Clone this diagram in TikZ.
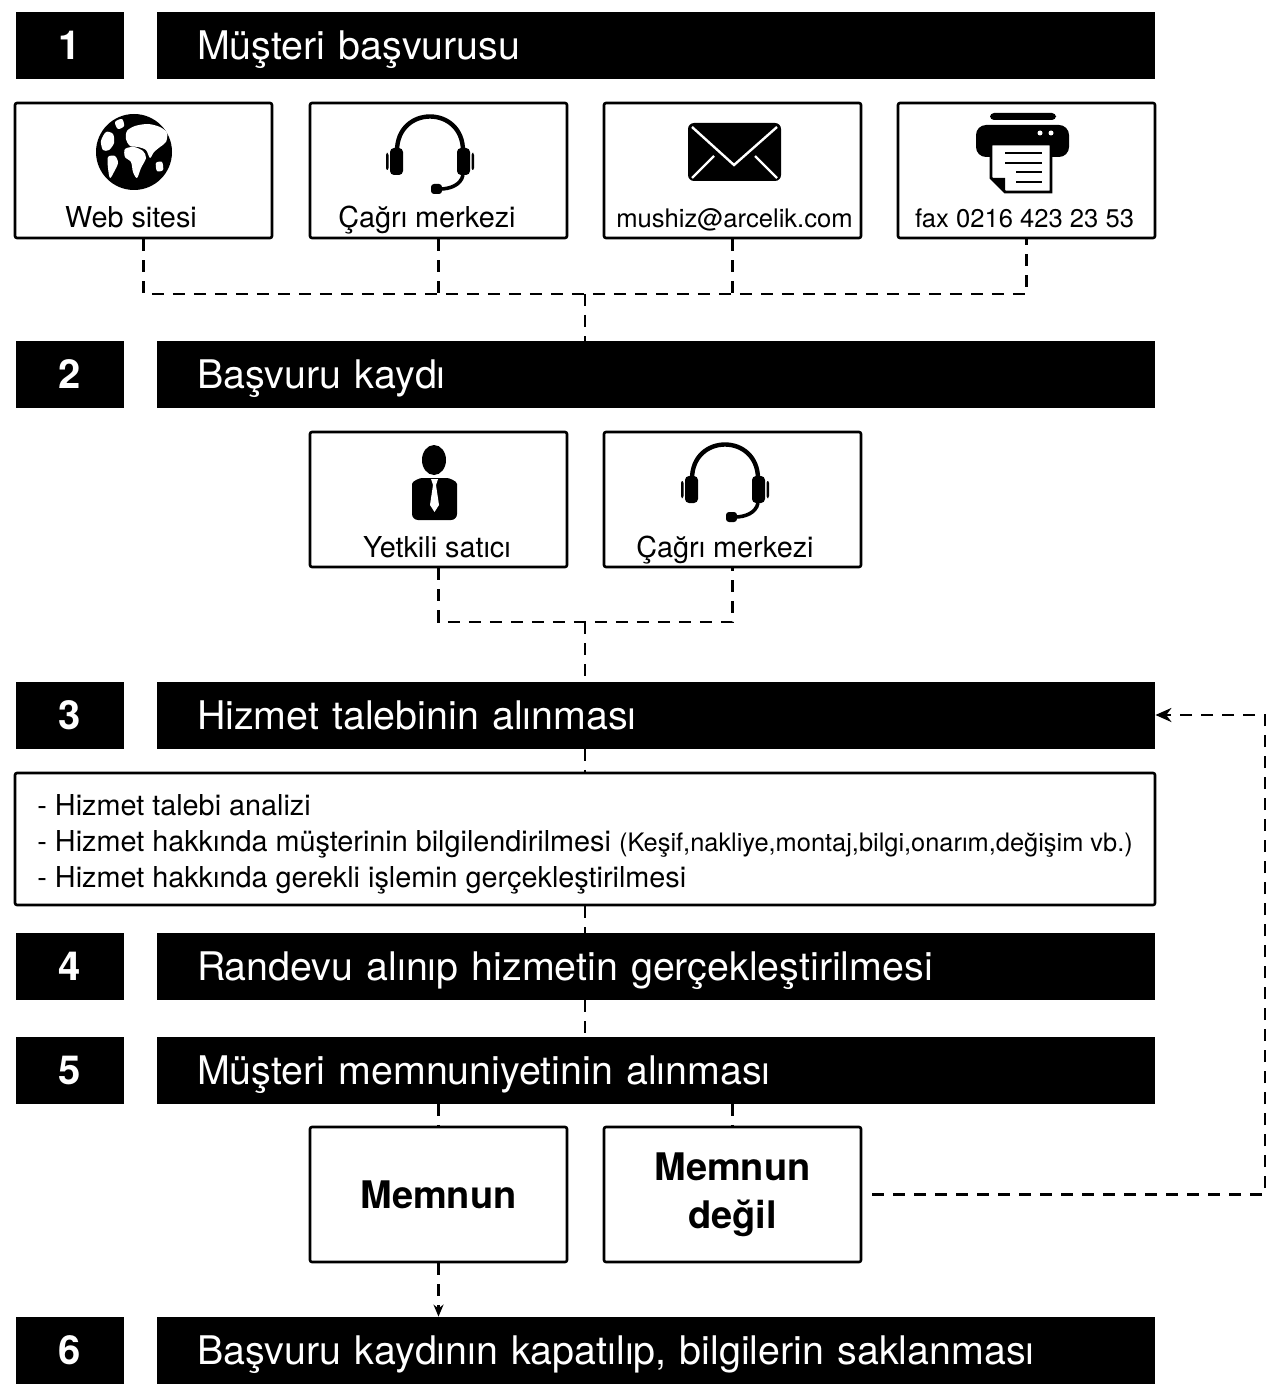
\documentclass[tikz,border=0pt]{standalone}
\usepackage{fontspec}
\setmainfont{TeX Gyre Heros}
\usetikzlibrary{arrows.meta}
\tikzset{
	numbox/.style={fill=black,text=white,minimum width=54pt,minimum height=33.5pt,inner sep=0pt,font=\fontsize{20}{24}\selectfont\bfseries,text height=14pt,text depth=0pt},
	titlebar/.style={fill=black,text=white,minimum height=33.5pt,text width=459pt,inner xsep=20pt,inner ysep=0pt,align=left,font=\fontsize{19.7}{24}\selectfont,text height=14.2pt,text depth=0pt},
	srcbox/.style={draw,line width=1.3pt,rounded corners=1pt,minimum width=128.5pt,minimum height=67.5pt},
	lbl/.style={anchor=base,inner sep=0pt,font=\fontsize{14.4}{17}\selectfont},
	smalllbl/.style={lbl,font=\fontsize{12.8}{15}\selectfont},
	infobox/.style={draw,line width=1.3pt,rounded corners=1pt,minimum width=570pt,minimum height=66pt},
	infotext/.style={anchor=west,inner sep=0pt,align=left,font=\fontsize{14.4}{18}\selectfont},
	answer/.style={srcbox,align=center,font=\fontsize{19}{24}\selectfont\bfseries},
	conn/.style={line width=1.4pt,dash pattern=on 6pt off 4.5pt},
	>={Stealth[length=6pt,width=5pt]}
}
\begin{document}
\begin{tikzpicture}[x=0.5pt,y=-0.5pt]
		\useasboundingbox (0,0) rectangle (1276,1390);
		%numbered steps
		\foreach \n/\y/\t in {1/45.5/{Müşteri başvurusu},2/374.5/{Başvuru kaydı},3/715/{Hizmet talebinin alınması},4/966.5/{Randevu alınıp hizmetin gerçekleştirilmesi},5/1070/{Müşteri memnuniyetinin alınması},6/1350.5/{Başvuru kaydının kapatılıp, bilgilerin saklanması}}{
			\node[numbox] (num\n) at (70,\y) {\n};
			\node[titlebar] (bar\n) at (656,\y) {\t};
		}
		%application channels
		\node[srcbox] (web) at (143.5,170.5) {};
		\node[srcbox] (call) at (438.5,170.5) {};
		\node[srcbox] (mail) at (732.5,170.5) {};
		\node[srcbox] (fax) at (1026.5,170.5) {};
		\node[lbl] (webl) at (131,228) {Web sitesi};
		\node[lbl] (calll) at (427,228) {Çağrı merkezi};
		\node[smalllbl] (maill) at (734.5,228) {mushiz@arcelik.com};
		\node[smalllbl] (faxl) at (1024.5,228) {fax 0216 423 23 53};
		%registration channels
		\node[srcbox] (dealer) at (438.5,499.5) {};
		\node[srcbox] (call2) at (732.5,499.5) {};
		\node[lbl] (dealerl) at (437,557) {Yetkili satıcı};
		\node[lbl] (call2l) at (725,557) {Çağrı merkezi};
		%globe
		\fill (134,152) circle (38);
		\fill[white] plot[smooth cycle] coordinates {(127,131) (135,126) (148,124) (160,127) (167,133) (166,142) (160,147) (154,152) (150,158) (146,150) (138,147) (130,146) (126,139)};
		\fill[white] plot[smooth cycle] coordinates {(125,149) (134,147) (143,151) (146,158) (141,168) (137,178) (133,172) (131,162) (125,157)};
		\fill[white] plot[smooth cycle] coordinates {(101,141) (106,132) (113,134) (114,143) (109,150) (103,150)};
		\fill[white] plot[smooth cycle] coordinates {(108,157) (115,156) (118,163) (114,172) (110,178) (108,168)};
		\fill[white] plot[smooth cycle] coordinates {(115,122) (122,119) (124,126) (118,129)};
		\fill[white] plot[smooth cycle] coordinates {(156,163) (162,162) (163,170) (157,171)};
		%headsets
		\foreach \hx/\hy in {430/115,725/443}{
			\begin{scope}[shift={(\hx,\hy)}]
				\draw[line width=2.2pt] (-33,36) .. controls (-33,-10) and (33,-10) .. (33,36);
				\fill[rounded corners=2pt] (-40,33) rectangle (-27,60);
				\fill[rounded corners=2pt] (27,33) rectangle (40,60);
				\fill[rounded corners=1pt] (-44,38) rectangle (-41.5,55);
				\fill[rounded corners=1pt] (41.5,38) rectangle (44,55);
				\draw[line width=1.8pt] (33,60) .. controls (31,70) and (20,74) .. (10,74);
				\fill[rounded corners=1.5pt] (1,69) rectangle (12,79);
			\end{scope}
		}
		%envelope
		\fill[rounded corners=3pt] (688,123) rectangle (781,181);
		\draw[white,line width=1.2pt] (692,127) -- (734,165) -- (777,127);
		\draw[white,line width=1.2pt] (692,178) -- (714,156) (777,178) -- (755,156);
		%fax
		\fill[rounded corners=2pt] (990,113) rectangle (1056,120);
		\fill[rounded corners=5pt] (976,125) rectangle (1069,157);
		\fill[white] (1040,133) circle (2.5) (1051,133) circle (2.5);
		\filldraw[fill=white,line width=1.4pt] (991,144) -- (1051,144) -- (1051,192) -- (1005,192) -- (991,178) -- cycle;
		\fill (991,178) -- (1005,178) -- (1005,192) -- cycle;
		\foreach \y in {153,163}
		\draw[line width=1.4pt] (1005,\y) -- (1042,\y);
		\foreach \y in {172,182}
		\draw[line width=1.4pt] (1016,\y) -- (1042,\y);
		%dealer
		\fill (434,460) ellipse [x radius=12,y radius=15];
		\fill[rounded corners=3pt] (412,520) -- (412,490) .. controls (412,481) and (420,478) .. (428,478) -- (441,478) .. controls (449,478) and (457,481) .. (457,490) -- (457,520) -- cycle;
		\fill[white] (431,479) -- (438,479) -- (436,485) -- (439,505) -- (434.5,512) -- (430,505) -- (433,485) -- cycle;
		%service steps
		\node[infobox] (info) at (585,839) {};
		\node[infotext] (infol) at (37,844) {- Hizmet talebi analizi\\- Hizmet hakkında müşterinin bilgilendirilmesi {\fontsize{12.7}{18}\selectfont(Keşif,nakliye,montaj,bilgi,onarım,değişim vb.)}\\- Hizmet hakkında gerekli işlemin gerçekleştirilmesi};
		\node[answer] (yes) at (438.5,1194.5) {Memnun};
		\node[answer] (no) at (732.5,1194.5) {Memnun\\değil};
		%connectors
		\coordinate (j1) at (585,294);
		\coordinate (j2) at (585,622);
		\coordinate (ret) at (1265,0);
		\draw[conn] (web.south) -- (web.south |- j1) -- (fax.south |- j1) -- (fax.south);
		\draw[conn] (call.south) -- (call.south |- j1);
		\draw[conn] (mail.south) -- (mail.south |- j1);
		\draw[conn] (j1) -- (j1 |- bar2.north);
		\draw[conn] (dealer.south) -- (dealer.south |- j2) -- (call2.south |- j2) -- (call2.south);
		\draw[conn] (j2) -- (j2 |- bar3.north);
		\draw[conn] (info.north |- bar3.south) -- (info.north);
		\draw[conn] (info.south) -- (info.south |- bar4.north);
		\draw[conn] (info.south |- bar4.south) -- (info.south |- bar5.north);
		\draw[conn] (yes.north |- bar5.south) -- (yes.north);
		\draw[conn] (no.north |- bar5.south) -- (no.north);
		\draw[conn,->] (yes.south) -- (yes.south |- bar6.north);
		\draw[conn,-{Stealth[length=8pt,width=7pt]}] ([xshift=5pt]no.east) -- (no.east -| ret) -- (ret |- bar3.east) -- (bar3.east);
\end{tikzpicture}
\end{document}
